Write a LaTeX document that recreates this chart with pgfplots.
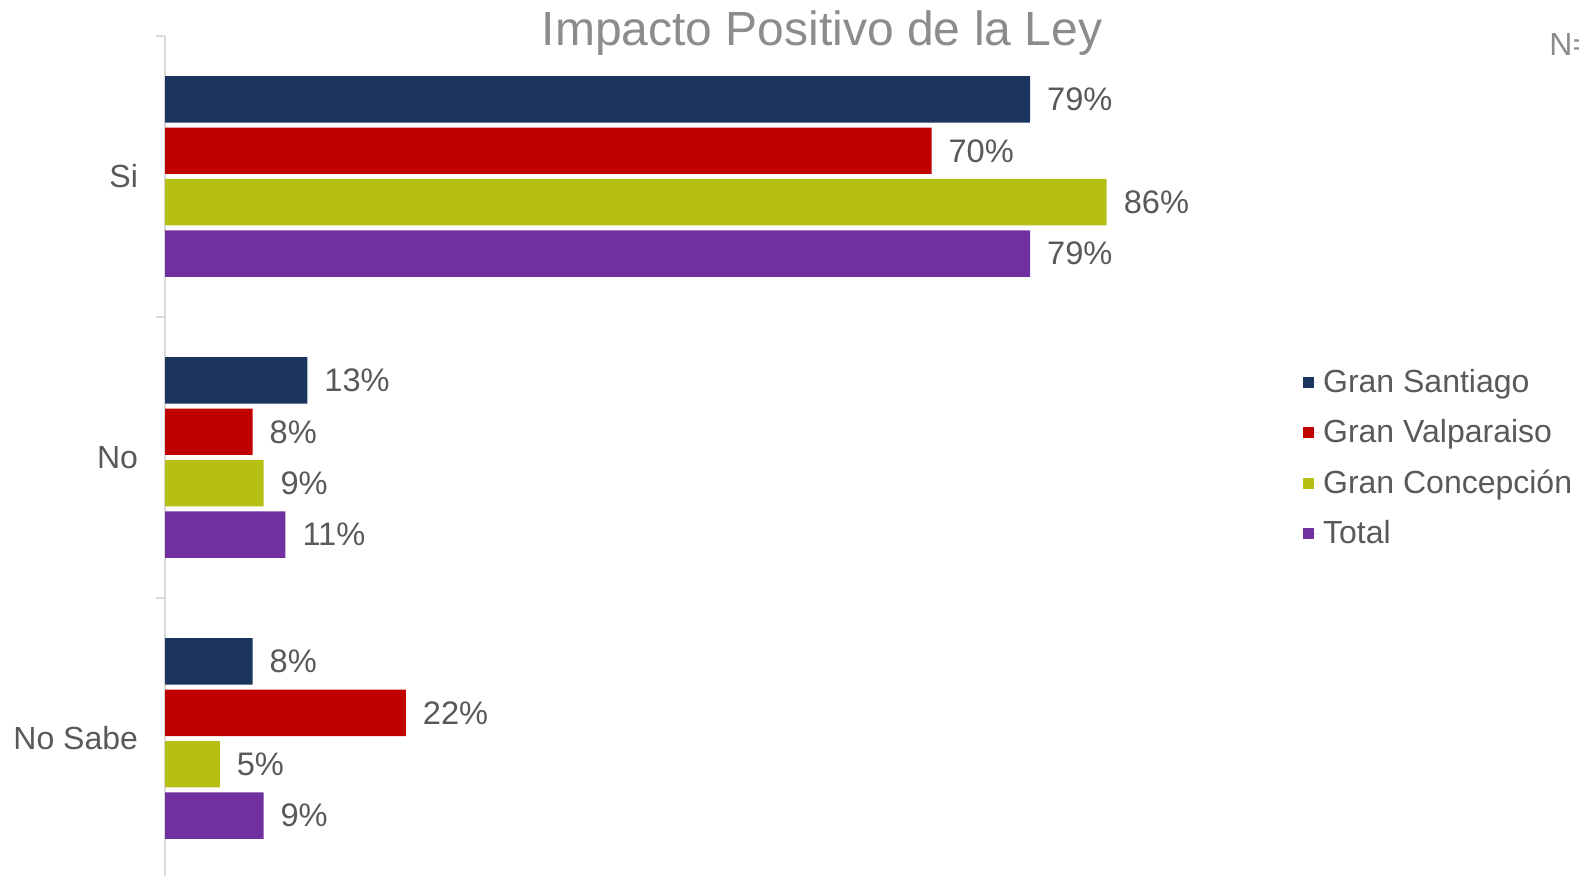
\documentclass[border=0pt]{standalone}
\usepackage{pgfplots}
\pgfplotsset{compat=1.18}
\usepackage{fontspec}
\setmainfont{Liberation Sans}

\definecolor{santiago}{HTML}{1C355E}
\definecolor{valpo}{HTML}{C00000}
\definecolor{conce}{HTML}{B5BF14}
\definecolor{total}{HTML}{7030A0}
\definecolor{labgray}{HTML}{595959}
\definecolor{titgray}{HTML}{8C8C8C}
\definecolor{axgray}{HTML}{D9D9D9}

\begin{document}
\begin{tikzpicture}
% 1 px of the reference = 0.5pt
\path[use as bounding box] (0pt,0pt) rectangle (789.5pt,-438pt);

\node[anchor=base,inner sep=0,text=titgray,font=\fontsize{24}{28}\selectfont]
  at (411pt,-23pt) {Impacto Positivo de la Ley};
\node[anchor=base west,inner sep=0,text=titgray,font=\fontsize{16}{19}\selectfont]
  at (774.5pt,-28pt) {N=};

\begin{axis}[
    at={(82.5pt,-18pt)}, anchor=north west,
    scale only axis,
    width=547.5pt, height=421.5pt,
    xmin=0, xmax=100,
    ymin=-0.5, ymax=2.5,
    xbar, bar width=23.2pt,
    axis x line=none,
    axis y line*=left,
    axis line style={draw=axgray,line width=1pt},
    ytick={0,1,2},
    yticklabels={No Sabe,No,Si},
    major tick length=0pt,
    minor ytick={-0.5,0.5,1.5,2.5},
    minor tick length=4.5pt,
    tick align=outside,
    minor tick style={draw=axgray,line width=1pt},
    yticklabel style={font=\fontsize{16}{19}\selectfont,text=labgray,xshift=-10pt},
    nodes near coords={\pgfmathprintnumber[assume math mode=true]{\pgfplotspointmeta}\%},
    point meta=x,
    every node near coord/.append style={font=\fontsize{16.3}{19}\selectfont,text=labgray,anchor=west,xshift=5pt},
    clip=false,
    legend cell align=left,
    legend style={at={(1.039,0.6095)},anchor=north west,draw=none,fill=none,
      font=\fontsize{16}{19}\selectfont,text=labgray,row sep=8pt,
      inner sep=0pt},
    legend image code/.code={\fill[#1] (0pt,-2.75pt) rectangle (5.5pt,2.75pt); \path (0pt,0pt) -- (8pt,0pt);},
]
\addplot[fill=santiago,draw=none,bar shift=38.55pt] coordinates {(79,2) (13,1) (8,0)};
\addplot[fill=valpo,draw=none,bar shift=12.85pt] coordinates {(70,2) (8,1) (22,0)};
\addplot[fill=conce,draw=none,bar shift=-12.85pt] coordinates {(86,2) (9,1) (5,0)};
\addplot[fill=total,draw=none,bar shift=-38.55pt] coordinates {(79,2) (11,1) (9,0)};
\legend{Gran Santiago,Gran Valparaiso,Gran Concepción,Total}
\end{axis}
\end{tikzpicture}
\end{document}
